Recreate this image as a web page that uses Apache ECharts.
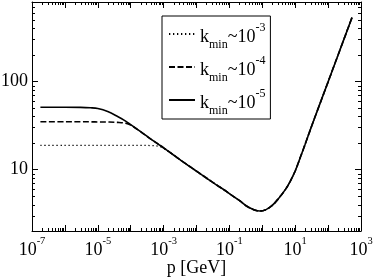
<!DOCTYPE html>
<html><head><meta charset="utf-8">
<script src="https://cdn.jsdelivr.net/npm/echarts@6/dist/echarts.min.js"></script>
<style>html,body{margin:0;padding:0;background:#fff}#c{width:374px;height:277px}</style>
</head><body><div id="c"></div>
<script>
// momentum p [GeV]
const pGeV = [1.8e-7, 1e-6, 3e-6, 6e-6, 1e-5, 2e-5, 4e-5, 7e-5, 1e-4, 2e-4, 4e-4, 7e-4,
  1e-3, 2e-3, 4e-3, 7e-3, 1e-2, 2e-2, 4e-2, 7e-2, 0.1, 0.2, 0.33, 0.5, 0.85, 1.3, 2, 3,
  5, 7, 10, 15, 20, 30, 50, 100, 200, 535];
// k_min ~ 1e-5 (solid)
const kmin1e5 = [51, 51, 50.8, 50.2, 49.2, 45.5, 40, 35.5, 32.3, 26.9, 22.3, 19.3,
  17.6, 14.6, 12.1, 10.5, 9.56, 8.0, 6.7, 5.85, 5.31, 4.45, 3.85, 3.55, 3.37, 3.5, 3.9, 4.6,
  5.9, 7.3, 9.6, 14.4, 19.3, 29.5, 49.5, 99, 199, 535];
// k_min ~ 1e-4 (dashed)
const kmin1e4 = [34.8, 34.8, 34.8, 34.8, 34.7, 34.6, 34.3, 33.6, 32.0, 26.9, 22.3, 19.3,
  17.6, 14.6, 12.1, 10.5, 9.56, 8.0, 6.7, 5.85, 5.31, 4.45, 3.85, 3.55, 3.37, 3.5, 3.9, 4.6,
  5.9, 7.3, 9.6, 14.4, 19.3, 29.5, 49.5, 99, 199, 535];
// k_min ~ 1e-3 (dotted)
const kmin1e3 = [18.8, 18.8, 18.8, 18.8, 18.8, 18.8, 18.8, 18.8, 18.8, 18.8, 18.7, 18.4,
  17.4, 14.6, 12.1, 10.5, 9.56, 8.0, 6.7, 5.85, 5.31, 4.45, 3.85, 3.55, 3.37, 3.5, 3.9, 4.6,
  5.9, 7.3, 9.6, 14.4, 19.3, 29.5, 49.5, 99, 199, 535];
const seriesNames = ['kmin~10^-3', 'kmin~10^-4', 'kmin~10^-5'];
const xRange = [1e-7, 1e3];
const yRange = [2, 800];
// minor tick mantissas and decades (axis decoration, not data)
const minorMantissas = [2, 3, 4, 5, 6, 7, 8, 9];
const xDecades = [-7, -6, -5, -4, -3, -2, -1, 0, 1, 2];
const yDecades = [0, 1, 2];

const FONT = "'Liberation Serif', 'DejaVu Serif', serif";
const BLACK = '#000';
const MAIN = 18;

function minorList(decades, lo, hi) {
  const out = [];
  decades.forEach(d => minorMantissas.forEach(m => {
    const v = m * Math.pow(10, d);
    if (v > lo * 1.0001 && v < hi / 1.0001) out.push(v);
  }));
  return out;
}
const xMinor = minorList(xDecades, xRange[0], xRange[1]);
const yMinor = minorList(yDecades, yRange[0], yRange[1]);

function axisBase() {
  return {
    type: 'log', logBase: 10,
    axisLine: { show: true, onZero: false, lineStyle: { color: BLACK, width: 1 } },
    splitLine: { show: false },
    axisTick: { show: true, inside: true, length: 6, lineStyle: { color: BLACK, width: 1 } },
    minorTick: { show: false },
    minorSplitLine: { show: false }
  };
}

const chart = echarts.init(document.getElementById('c'), null, { renderer: 'canvas' });
const xBottom = Object.assign(axisBase(), {
  position: 'bottom', min: xRange[0], max: xRange[1], interval: 1,
  axisLabel: {
    show: true, margin: 6, color: BLACK, fontFamily: FONT,
    formatter: v => {
      const e = Math.round(Math.log10(v));
      return (e % 2 !== 0) ? '{b|10}{s|' + e + '}' : '';
    },
    rich: {
      b: { fontSize: MAIN, height: 26, lineHeight: 26, fontFamily: FONT, color: BLACK },
      s: { fontSize: 10.5, height: 8, lineHeight: 8, verticalAlign: 'top', fontFamily: FONT, color: BLACK }
    }
  },
  name: 'p [GeV]', nameLocation: 'middle', nameGap: 28, nameMoveOverlap: false,
  nameTextStyle: { fontFamily: FONT, fontSize: MAIN, color: BLACK }
});
const xTop = Object.assign(axisBase(), {
  position: 'top', min: xRange[0], max: xRange[1], interval: 1, axisLabel: { show: false }
});
const yLeft = Object.assign(axisBase(), {
  position: 'left', min: yRange[0], max: yRange[1],
  axisLabel: {
    show: true, showMinLabel: false, showMaxLabel: false, margin: 4,
    color: BLACK, fontFamily: FONT, fontSize: MAIN,
    formatter: v => String(Math.round(v))
  }
});
const yRight = Object.assign(axisBase(), {
  position: 'right', min: yRange[0], max: yRange[1], axisLabel: { show: false }
});

function mk(name, vals, width, type) {
  return {
    name: name, type: 'line', xAxisIndex: 0, yAxisIndex: 0,
    data: pGeV.map((p, i) => [p, vals[i]]),
    showSymbol: false, symbol: 'none', smooth: 0.35,
    lineStyle: { color: BLACK, width: width, type: type },
    itemStyle: { color: BLACK },
    emphasis: { disabled: true }
  };
}

chart.setOption({
  animation: false,
  backgroundColor: '#fff',
  grid: { left: 32, right: 13, top: 2, bottom: 46, containLabel: false, outerBoundsMode: 'none' },
  xAxis: [xBottom, xTop],
  yAxis: [yLeft, yRight],
  legend: {
    orient: 'vertical', left: 162, top: 16, padding: [2, 5, 2, 6], itemGap: 0,
    itemWidth: 26, itemHeight: 14,
    borderColor: BLACK, borderWidth: 1, borderRadius: 0, backgroundColor: '#fff',
    selectedMode: false,
    itemStyle: { opacity: 0 },
    data: seriesNames,
    formatter: name => '{p|\u200b}{k|k}{sub|min}{k|~10}{sup|' + name.split('^')[1] + '}',
    textStyle: {
      color: BLACK, fontFamily: FONT,
      rich: {
        p: { fontSize: 1, height: 32, lineHeight: 32 },
        k: { fontSize: MAIN, height: 26, lineHeight: 26, verticalAlign: 'bottom', fontFamily: FONT, color: BLACK },
        sub: { fontSize: 12, height: 10, lineHeight: 10, verticalAlign: 'bottom', fontFamily: FONT, color: BLACK },
        sup: { fontSize: 12, lineHeight: 16, verticalAlign: 'top', padding: [4, 0, 0, 0], fontFamily: FONT, color: BLACK }
      }
    }
  },
  series: [
    mk(seriesNames[0], kmin1e3, 1.3, [1.3, 2.7]),
    mk(seriesNames[1], kmin1e4, 1.6, [6, 2.5]),
    mk(seriesNames[2], kmin1e5, 1.6, 'solid')
  ]
});

// Minor ticks: drawn as a broken line series (same mechanism as the curves),
// with tick ends found through the chart's own axis scales.
const finder = { gridIndex: 0 };
const toPx = (x, y) => chart.convertToPixel(finder, [x, y]);
const fromPx = (px, py) => chart.convertFromPixel(finder, [px, py]);
const L = 3;
const pb = toPx(xRange[0], yRange[0]);   // bottom-left corner in pixels
const pt = toPx(xRange[1], yRange[1]);   // top-right corner in pixels
const yBottomEnd = fromPx(pb[0], pb[1] - L)[1];
const yTopEnd = fromPx(pb[0], pt[1] + L)[1];
const xLeftEnd = fromPx(pb[0] + L, pb[1])[0];
const xRightEnd = fromPx(pt[0] - L, pb[1])[0];
const tickData = [];
xMinor.forEach(v => {
  const xc = fromPx(Math.round(toPx(v, yRange[0])[0]) + 0.5, pb[1])[0];
  tickData.push([xc, yRange[0]], [xc, yBottomEnd], '-');
  tickData.push([xc, yRange[1]], [xc, yTopEnd], '-');
});
yMinor.forEach(v => {
  const yc = fromPx(pb[0], Math.round(toPx(xRange[0], v)[1]) + 0.5)[1];
  tickData.push([xRange[0], yc], [xLeftEnd, yc], '-');
  tickData.push([xRange[1], yc], [xRightEnd, yc], '-');
});
chart.setOption({
  series: [{}, {}, {}, {
    name: 'minorTicks', type: 'line', xAxisIndex: 0, yAxisIndex: 0,
    data: tickData, connectNulls: false, clip: false, silent: true, z: 10,
    showSymbol: false, symbol: 'none', smooth: false, sampling: null,
    lineStyle: { color: BLACK, width: 1, type: 'solid' },
    itemStyle: { color: BLACK },
    emphasis: { disabled: true }, tooltip: { show: false }
  }]
});
</script></body></html>
